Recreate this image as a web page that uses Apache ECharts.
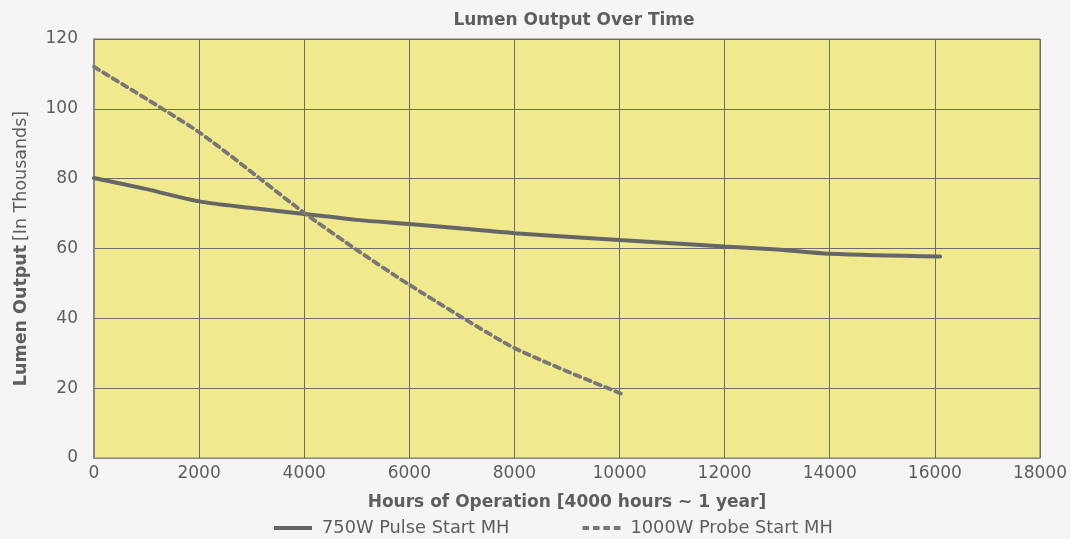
<!DOCTYPE html>
<html><head><meta charset="utf-8">
<script src="https://cdn.jsdelivr.net/npm/echarts@6/dist/echarts.min.js"></script>
<style>html,body{margin:0;padding:0;background:#f6f4f5;}#c{width:1070px;height:539px;}</style>
</head><body><div id="c"></div>
<script>
const seriesNames = ['750W Pulse Start MH', '1000W Probe Start MH'];
const pulseHours = [0, 1000, 2000, 3000, 4000, 5000, 6000, 7000, 8000, 10000, 12000, 13000, 14000, 16100];
const pulseLumens = [80.2, 77.0, 73.5, 71.6, 69.9, 68.2, 67.0, 65.7, 64.4, 62.4, 60.6, 59.7, 58.5, 57.7];
const probeHours = [0, 2000, 4000, 5000, 6000, 8000, 10100];
const probeLumens = [112, 93.3, 70.2, 59.6, 49.6, 31.5, 18];
const xTicks = {min: 0, max: 18000, interval: 2000};
const yTicks = {min: 0, max: 120, interval: 20};

const chart = echarts.init(document.getElementById('c'));
const font = 'DejaVu Sans';
const txt = '#5e5e5e';
chart.setOption({
  backgroundColor: '#f6f4f5',
  animation: false,
  textStyle: {fontFamily: font},
  title: {text: 'Lumen Output Over Time', left: 569, textAlign: 'center', top: 7,
    textStyle: {fontSize: 17, fontWeight: 'bold', color: txt, fontFamily: font}},
  grid: {left: 94, right: 29, top: 39, bottom: 81, show: true, backgroundColor: '#f0e98e', borderColor: '#777', borderWidth: 1},
  legend: {top: 514, left: 269, itemWidth: 38, itemHeight: 4, itemGap: 73,
    textStyle: {fontSize: 17.8, color: txt, fontFamily: font, padding: [0, 0, 0, 5]},
    data: [
      {name: seriesNames[0], icon: 'path://M0,0h40v4h-40z', itemStyle: {color: '#666'}},
      {name: seriesNames[1], icon: 'path://M0,0h7v4h-7z M11,0h7v4h-7z M22,0h7v4h-7z M33,0h7v4h-7z', itemStyle: {color: '#777'}}
    ]},
  xAxis: {type: 'value', min: xTicks.min, max: xTicks.max, interval: xTicks.interval,
    name: 'Hours of Operation [4000 hours ~ 1 year]', nameLocation: 'middle', nameGap: 36,
    nameTextStyle: {fontSize: 17, fontWeight: 'bold', color: txt, fontFamily: font},
    axisLine: {show: true, lineStyle: {color: '#888', width: 1}}, axisTick: {show: false},
    axisLabel: {fontSize: 17, color: txt, margin: 7, formatter: v => String(v)},
    splitLine: {show: true, lineStyle: {color: '#6c6c6c', width: 1}}},
  yAxis: {type: 'value', min: yTicks.min, max: yTicks.max, interval: yTicks.interval,
    name: '{b|Lumen Output} {n|[In Thousands]}', nameLocation: 'middle', nameGap: 64, nameRotate: 90,
    nameTextStyle: {rich: {b: {fontSize: 17.5, fontWeight: 'bold', color: txt, fontFamily: font},
      n: {fontSize: 17.5, color: txt, fontFamily: font}}},
    axisLine: {show: true, lineStyle: {color: '#888', width: 2}}, axisTick: {show: false},
    axisLabel: {fontSize: 17, color: txt, margin: 16},
    splitLine: {show: true, lineStyle: {color: '#6c6c6c', width: 1}}},
  series: [
    {name: seriesNames[0], type: 'line', smooth: 0.3, symbol: 'none',
      data: pulseHours.map((h, i) => [h, pulseLumens[i]]),
      lineStyle: {color: '#666', width: 4, cap: 'round'}, itemStyle: {color: '#666'}},
    {name: seriesNames[1], type: 'line', smooth: 0.2, symbol: 'none',
      data: probeHours.map((h, i) => [h, probeLumens[i]]),
      lineStyle: {color: '#777', width: 3.8, type: [6, 5], cap: 'round'}, itemStyle: {color: '#777'}}
  ]
});
</script></body></html>
